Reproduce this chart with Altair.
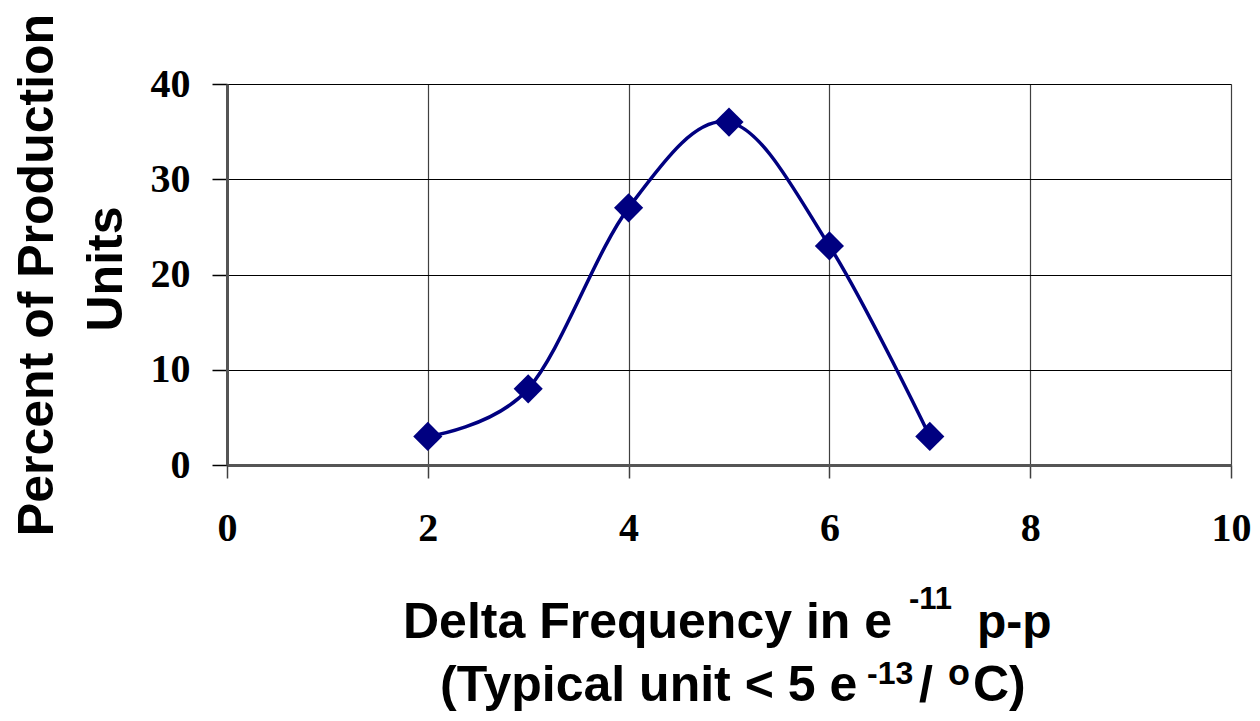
import altair as alt
import pandas as pd

delta = [2, 3, 4, 5, 6, 7]
percent = [3, 8, 27, 36, 23, 3]
x_ticks = [0, 2, 4, 6, 8, 10]
y_ticks = [0, 10, 20, 30, 40]

df = pd.DataFrame({"delta": delta, "percent": percent})

LABEL_FONT = "Liberation Serif"
TITLE_FONT = "Liberation Sans"
NAVY = "#000080"

x_enc = alt.X(
    "delta:Q",
    scale=alt.Scale(domain=[0, 10], nice=False, zero=True),
    axis=alt.Axis(
        values=x_ticks, title=None, grid=True, gridColor="#404040", gridWidth=1.2,
        labelFont=LABEL_FONT, labelFontSize=40, labelFontWeight="bold", labelColor="#000",
        tickSize=13, tickColor="#404040", tickWidth=1.5, labelPadding=30,
        domainColor="#555555", domainWidth=3, labelBaseline="top", format="d",
        labelFlush=False, labelOverlap=False,
    ),
)
y_enc = alt.Y(
    "percent:Q",
    scale=alt.Scale(domain=[0, 40], nice=False),
    axis=alt.Axis(
        values=y_ticks, title=None, grid=True, gridColor="#000000", gridWidth=1.2,
        labelFont=LABEL_FONT, labelFontSize=40, labelFontWeight="bold", labelColor="#000",
        tickSize=15, tickColor="#000", tickWidth=1.5, labelPadding=22,
        domainColor="#555555", domainWidth=3, format="d",
        labelFlush=False, labelOverlap=False,
    ),
)

base = alt.Chart(df)
line = base.mark_line(color=NAVY, strokeWidth=3.5, interpolate="cardinal").encode(x=x_enc, y=y_enc)
pts = base.mark_point(shape="diamond", filled=True, color=NAVY, size=850, opacity=1).encode(x="delta:Q", y="percent:Q")

def txt(s, x, y, size, angle=0, align="left", baseline="alphabetic"):
    return alt.Chart(pd.DataFrame({"a": [0]})).mark_text(
        text=s, font=TITLE_FONT, fontWeight="bold", fontSize=size, color="#000",
        align=align, baseline=baseline, angle=angle,
    ).encode(x=alt.value(x), y=alt.value(y))

titles = [
    txt("Percent of Production", -174, 191, 50, angle=270, align="center"),
    txt("Units", -105, 185, 50, angle=270, align="center"),
    txt("Delta Frequency in e", 176, 554, 50),
    txt("-11", 682, 525, 31),
    txt("p-p", 750, 554, 48),
    txt("(Typical unit < 5 e", 213, 617, 50),
    txt("-13", 640, 600, 32),
    txt("/", 692, 617, 50),
    txt("o", 721, 601, 36),
    txt("C)", 746, 617, 50),
]

chart = alt.layer(line, pts, *titles).properties(
    width=1004, height=381,
    autosize=alt.AutoSizeParams(type="none"),
    padding={"left": 219, "top": 76, "right": 21, "bottom": 248},
).configure_view(
    fill="#CCFFFF", stroke="#808080", strokeWidth=3,
).configure(background="white")

chart.save("out.html", embed_options={"renderer": "svg", "actions": False})
